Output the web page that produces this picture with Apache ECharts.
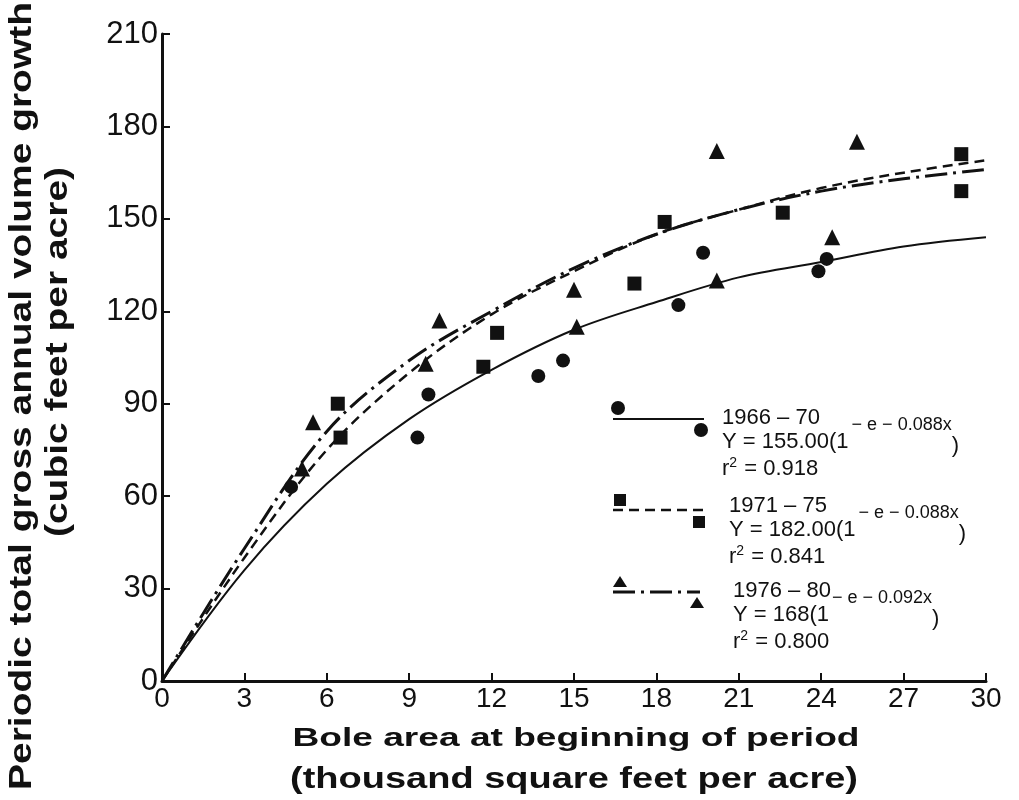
<!DOCTYPE html>
<html>
<head>
<meta charset="utf-8">
<script src="https://cdn.jsdelivr.net/npm/echarts@6/dist/echarts.min.js"></script>
<style>
html,body{margin:0;padding:0;background:#fff;}
#chart{width:1019px;height:800px;}
</style>
</head>
<body>
<div id="chart"></div>
<script>
// ---- data ----
const periods = ['1966 – 70', '1971 – 75', '1976 – 80'];
const eqBase = ['Y = 155.00(1', 'Y = 182.00(1', 'Y = 168(1'];
const eqExp = ['− e − 0.088x', '− e − 0.088x', '− e − 0.092x'];
const rSquared = ['0.918', '0.841', '0.800'];

const obs1966 = [[4.7,63],[9.3,79],[9.7,93],[13.7,99],[14.6,104],[18.8,122],[19.7,139],[23.9,133],[24.2,137]];
const obs1971 = [[6.4,90],[6.5,79],[11.7,102],[12.2,113],[17.2,129],[18.3,149],[22.6,152],[29.1,171],[29.1,159]];
const obs1976 = [[5.1,69],[5.5,84],[9.6,103],[10.1,117],[15.0,127],[15.1,115],[20.2,172],[20.2,130],[24.4,144],[25.3,175]];

const curveX   = [0, 3, 6, 9, 12, 15, 18, 21, 24, 27, 30];
const fit1966  = [0, 36, 64, 85, 101, 114, 123, 131, 136, 141, 144];
const fit1971  = [0, 40, 75, 100, 119, 133, 145, 153, 160, 165, 169];
const fit1976  = [0, 43, 81, 104, 120, 134, 145, 153, 159, 163, 166];

const xTicks = [0, 3, 6, 9, 12, 15, 18, 21, 24, 27, 30];
const yTicks = [0, 30, 60, 90, 120, 150, 180, 210];

const xTitle = ['Bole area at beginning of period', '(thousand square feet per acre)'];
const yTitle = ['Periodic total gross annual volume growth', '(cubic feet per acre)'];

// ---- helpers ----
const FONT = '"Liberation Sans", Arial, sans-serif';
const mctx = document.createElement('canvas').getContext('2d');
function textW(str, font) { mctx.font = font; return mctx.measureText(str).width; }
const zip = (xs, ys) => xs.map((x, i) => [x, ys[i]]);

const lineStyles = [
  {type: 'solid', width: 2},
  {type: [10, 6], width: 2.5},
  {type: [22, 6, 3, 6], width: 3}
];
const symbols = ['circle', 'rect', 'triangle'];
const symSizes = [14, 14, 16];
const fits = [fit1966, fit1971, fit1976];
const obs = [obs1966, obs1971, obs1976];

const series = [];
for (let i = 0; i < 3; i++) {
  series.push({
    name: periods[i] + ' fit', type: 'line', data: zip(curveX, fits[i]),
    smooth: 0.35, showSymbol: false, silent: true,
    lineStyle: Object.assign({color: '#111'}, lineStyles[i]), z: 2
  });
  series.push({
    name: periods[i], type: 'scatter', data: obs[i],
    symbol: symbols[i], symbolSize: symSizes[i],
    itemStyle: {color: '#111', opacity: 1}, z: 3
  });
}

const graphics = [];

// ---- legend block ----
const legLine1Y = [418, 506, 591];   // centre of first text line
const legTextX = [722, 729, 733];
const legLineY = [419, 510, 592];
const legLineX2 = [704, 703, 700];
const legSym1 = [[618, 408], [620, 500], [620, 582]];
const legSym2 = [[701, 430], [699, 522], [697, 603]];
const F_MAIN = '22px ' + FONT;
const F_SUP = '18px ' + FONT;
const F_SUP2 = '14px ' + FONT;
function txt(x, y, s, font) {
  return {type: 'text', x: x, y: y, style: {text: s, font: font, fill: '#111', align: 'left', verticalAlign: 'middle'}};
}
for (let i = 0; i < 3; i++) {
  graphics.push({
    type: 'line', shape: {x1: 613, y1: legLineY[i], x2: legLineX2[i], y2: legLineY[i]},
    style: {stroke: '#111', lineWidth: lineStyles[i].width,
      lineDash: lineStyles[i].type === 'solid' ? null : lineStyles[i].type}
  });
  [legSym1[i], legSym2[i]].forEach(p => {
    if (i === 0) graphics.push({type: 'circle', shape: {cx: p[0], cy: p[1], r: 7}, style: {fill: '#111'}});
    if (i === 1) graphics.push({type: 'rect', shape: {x: p[0] - 6, y: p[1] - 6, width: 12, height: 12}, style: {fill: '#111'}});
    if (i === 2) graphics.push({type: 'polygon', shape: {points: [[p[0], p[1] - 6], [p[0] + 7, p[1] + 5], [p[0] - 7, p[1] + 5]]}, style: {fill: '#111'}});
  });
  const x0 = legTextX[i], y0 = legLine1Y[i];
  graphics.push(txt(x0, y0, periods[i], F_MAIN));
  // equation line
  const wb = textW(eqBase[i], F_MAIN);
  graphics.push(txt(x0, y0 + 24, eqBase[i], F_MAIN));
  graphics.push(txt(x0 + wb + 3, y0 + 7, eqExp[i], F_SUP));
  const we = textW(eqExp[i], F_SUP);
  graphics.push(txt(x0 + wb + 3 + we, y0 + 28, ')', F_MAIN));
  // r^2 line
  const wr = textW('r', F_MAIN);
  graphics.push(txt(x0, y0 + 51, 'r', F_MAIN));
  graphics.push(txt(x0 + wr, y0 + 45, '2', F_SUP2));
  const w2 = textW('2', F_SUP2);
  graphics.push(txt(x0 + wr + w2 + 1, y0 + 51, ' = ' + rSquared[i], F_MAIN));
}

// ---- axis titles (horizontally stretched like the original typesetting) ----
function title(str, font, cx, cy, targetLen, vertical) {
  const s = targetLen / textW(str, font);
  return {type: 'text', x: cx, y: cy, rotation: vertical ? Math.PI / 2 : 0, scaleX: s,
    style: {text: str, font: font, fill: '#111', align: 'center', verticalAlign: 'middle'}};
}
graphics.push(title(xTitle[0], 'bold 25px ' + FONT, 576, 739, 567, false));
graphics.push(title(xTitle[1], 'bold 29px ' + FONT, 574, 780, 568, false));
graphics.push(title(yTitle[0], 'bold 31px ' + FONT, 22, 396, 788, true));
graphics.push(title(yTitle[1], 'bold 31px ' + FONT, 58, 352, 370, true));

const chart = echarts.init(document.getElementById('chart'), null, {renderer: 'canvas'});
chart.setOption({
  backgroundColor: '#fff',
  animation: false,
  grid: {left: 162, right: 33, top: 34, bottom: 119, containLabel: false, outerBoundsMode: 'none'},
  xAxis: {
    type: 'value', min: 0, max: 30, interval: 3,
    axisLine: {lineStyle: {color: '#111', width: 3}},
    axisTick: {inside: true, length: 8, lineStyle: {color: '#111', width: 2}},
    axisLabel: {fontFamily: FONT, fontSize: 28, color: '#111', margin: 4,
      formatter: v => xTicks.indexOf(v) >= 0 ? String(v) : ''},
    splitLine: {show: false}
  },
  yAxis: {
    type: 'value', min: 0, max: 210, interval: 30,
    axisLine: {lineStyle: {color: '#111', width: 3}},
    axisTick: {inside: true, length: 8, lineStyle: {color: '#111', width: 2}},
    axisLabel: {fontFamily: FONT, fontSize: 31, color: '#111', margin: 4, padding: [10, 0, 0, 0],
      formatter: v => yTicks.indexOf(v) >= 0 ? String(v) : ''},
    splitLine: {show: false}
  },
  series: series,
  graphic: graphics
});
</script>
</body>
</html>
